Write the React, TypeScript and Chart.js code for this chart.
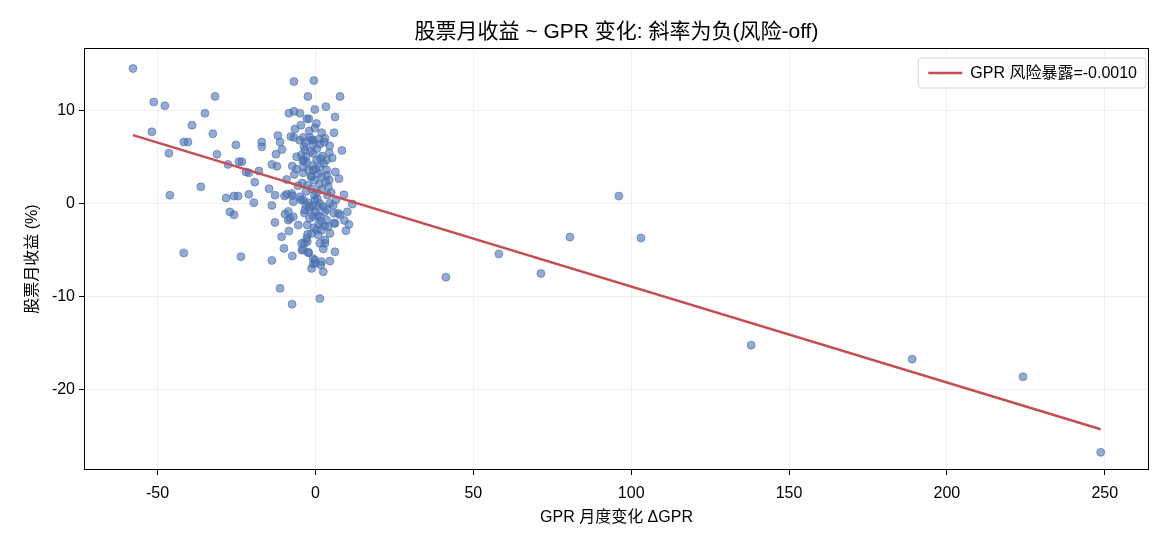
import React, { useEffect, useRef } from "react";
import { Chart, registerables } from "chart.js";

Chart.register(...registerables);

// Monthly change in the GPR index (x) and the stock market's monthly return in % (y)
const gprChange = [
  -57.8, -51.2, -47.7, -31.8, -35.0, -51.8, -39.1, -41.7, -40.4, -32.5,
  -46.4, -25.2, -17.0, -17.0, -11.9, -11.2, -10.6, -12.5, -31.2, -27.7,
  -24.2, -23.3, -22.0, -21.1, -17.9, -19.2, -13.8, -12.2, -36.3, -46.1,
  -28.3, -25.8, -24.5, -21.1, -19.5, -14.7, -12.8, -13.8, -27.1, -25.8,
  -41.7, -23.6, -13.8, -11.2, -7.4, 1.4, -6.8, -0.5, -2.4, 7.8,
  -8.4, -6.8, -4.9, -0.2, 3.3, 6.2, -2.7, -2.1, -4.6, -6.5,
  -0.2, 5.9, -7.8, -6.8, -1.7, -0.8, 3.0, 8.4,
  -3.85, -3.2, 1.43, -1.21, 4.38, 3.54, -5.97, -7.34, -6.71, -9.13,
  -3.33, -3.01, -3.85, -3.64, -0.69, 0.37, -0.69, -1.21, 1.43, 1.95,
  3.54, 4.38, 4.07, 7.44, 9.03, 11.67, 10.09, 7.23, 9.13, -9.77,
  -7.55, -7.02, -4.91, -3.85, -3.33, -1.74, -0.16, 0.9, 1.43, 3.01,
  4.59, 5.86, 3.54, -0.69, -9.66, -8.61, -7.02, -5.44, -8.4, -10.72,
  -12.83, -9.98, -7.34, -4.38, -3.85, -2.59, -2.27, -1.21, 0.37, 1.43,
  0.9, 3.01, 2.48, 4.07, 4.59, 6.18, 9.66, 10.61, 6.18, 4.59,
  1.95, 2.48, -0.16, -1.21, -0.69,
  5.96, 7.76, 0.05, 1.74, -0.7, -2.15, -4.28, -3.55, -2.79, -2.47,
  -8.08, -8.6, -9.1, -7.35, 3.0, 1.96,
  -4.5, -2.8, -1.5, 0.5, 2.2, -3.9, -2.2, 0.8, 2.6, -1.0,
  -4.2, -2.5, -0.3, 1.2, 3.2, -3.0, -1.3, 0.4, 2.0, 3.8,
  -4.6, -2.3, -0.9, 0.6, 2.4, 3.6, -3.5, -1.9, 0.0, 1.8,
  2.9, -2.6, -0.5, 1.0, -1.4, 0.1, 1.6, -3.6, -0.8, 1.0,
  -2.0, 0.3, 2.0, -5.0, 4.5, 5.3, 6.3, 5.0, 6.5, 5.6,
  -5.5, -6.0, -1.8, 1.3, 3.5, -4.0, 2.8, -0.4, 0.7, -3.1,
  41.3, 58.1, 71.4, 80.6, 96.1, 103.1, 138.0, 189.0, 224.1, 248.7,
];

const stockReturn = [
  14.5, 10.9, 10.5, 11.5, 9.7, 7.7, 8.4, 6.6, 6.6, 7.5,
  5.4, 6.3, 6.6, 6.1, 7.3, 6.6, 5.8, 5.3, 5.3, 4.2,
  4.5, 4.5, 3.4, 3.3, 3.5, 2.3, 4.2, 4.0, 1.8, 0.9,
  0.6, 0.8, 0.8, 1.0, 0.1, 1.6, 0.9, -0.2, -0.9, -1.2,
  -5.3, -5.7, -6.1, -9.1, -10.8, -10.2, 13.1, 13.2, 11.5, 11.5,
  9.7, 9.9, 9.7, 10.1, 10.4, 9.3, 9.1, 9.1, 8.4, 8.0,
  8.1, 7.6, 7.2, 7.1, 7.1, 6.8, 7.0, 5.7,
  7.1, 6.56, 6.39, 6.82, 5.46, 4.67, 5.03, 4.02, 3.13, 2.59,
  5.74, 5.03, 3.95, 4.67, 5.38, 4.67, 3.6, 2.88, 3.95, 2.88,
  3.06, 2.52, 1.81, 2.67, 0.95, -0.05, -0.88, -1.05, -1.81, 0.81,
  1.09, 0.2, 0.73, 0.38, -0.7, -0.34, 0.38, -0.34, -1.41, -0.88,
  0.02, -1.05, -1.77, -1.41, -1.13, -1.77, -1.41, -2.31, -2.95, -3.56,
  -2.02, -4.81, -5.63, -4.27, -4.99, -4.09, -5.27, -3.2, -2.84, -4.27,
  -3.38, -3.92, -4.88, -2.49, -3.2, -2.13, -2.91, -2.24, -5.17, -6.17,
  -6.24, -7.31, -6.06, -6.96, -6.49,
  -2.09, -1.23, -6.4, -6.6, -5.9, -5.24, -4.99, -4.27, -3.73, -3.3,
  -1.59, -0.84, 0.99, 0.84, -4.27, -2.84,
  5.2, 4.4, 5.6, 5.9, 5.1, 3.3, 3.6, 3.2, 4.3, 4.1,
  2.2, 2.0, 2.5, 2.1, 2.3, 1.3, 1.6, 1.2, 1.5, 0.9,
  0.4, 0.1, -0.2, 0.5, -0.3, -0.6, -1.0, -1.6, -0.9, -1.9,
  -2.4, -2.3, -2.6, -2.2, 2.9, 3.7, 4.8, 6.1, 6.3, 6.9,
  7.8, 8.6, 7.6, 6.8, 6.2, 4.9, 3.4, 1.2, 0.4, -0.2,
  1.9, 3.7, -0.7, 0.0, 3.6, 4.6, 6.6, 0.9, -1.3, -0.1,
  -7.9, -5.4, -7.5, -3.6, 0.8, -3.7, -15.2, -16.7, -18.6, -26.7,
];

// OLS fit: return (decimal) = alpha + beta * ΔGPR
const fitBeta = -0.00103;
const fitAlphaPct = 1.39;

const xTicks = [-50, 0, 50, 100, 150, 200, 250];
const yTicks = [-20, -10, 0, 10];

const chartTitle = "股票月收益 ~ GPR 变化: 斜率为负(风险-off)";
const xAxisTitle = "GPR 月度变化 ΔGPR";
const yAxisTitle = "股票月收益 (%)";
const legendLabel = `GPR 风险暴露=${fitBeta.toFixed(4)}`;

const FONT = "'Liberation Sans', Arial, 'Noto Sans CJK SC', sans-serif";
const POINT_BLUE = "rgba(76, 114, 176, 0.6)";
const LINE_RED = "#c44e52";

const framePlugin = {
  id: "frameTitleLegend",
  afterDraw(chart: any) {
    const { ctx, chartArea: a } = chart;
    ctx.save();
    // axes frame
    ctx.strokeStyle = "#000";
    ctx.lineWidth = 1;
    ctx.strokeRect(a.left + 0.5, a.top + 0.5, a.right - a.left - 1, a.bottom - a.top - 1);

    // title centred over the plot area
    ctx.fillStyle = "#000";
    ctx.font = `21px ${FONT}`;
    ctx.textAlign = "center";
    ctx.textBaseline = "middle";
    ctx.fillText(chartTitle, (a.left + a.right) / 2, 32);

    // legend box in the upper right corner
    ctx.font = `16px ${FONT}`;
    const textW = ctx.measureText(legendLabel).width;
    const boxW = 10 + 34 + 8 + textW + 9;
    const boxH = 30;
    const bx = a.right - 3 - boxW;
    const by = a.top + 10;
    ctx.beginPath();
    const r = 3;
    ctx.moveTo(bx + r, by);
    ctx.lineTo(bx + boxW - r, by);
    ctx.quadraticCurveTo(bx + boxW, by, bx + boxW, by + r);
    ctx.lineTo(bx + boxW, by + boxH - r);
    ctx.quadraticCurveTo(bx + boxW, by + boxH, bx + boxW - r, by + boxH);
    ctx.lineTo(bx + r, by + boxH);
    ctx.quadraticCurveTo(bx, by + boxH, bx, by + boxH - r);
    ctx.lineTo(bx, by + r);
    ctx.quadraticCurveTo(bx, by, bx + r, by);
    ctx.closePath();
    ctx.fillStyle = "rgba(255,255,255,0.8)";
    ctx.fill();
    ctx.strokeStyle = "#d6d6d6";
    ctx.stroke();

    ctx.strokeStyle = LINE_RED;
    ctx.lineWidth = 2.5;
    ctx.beginPath();
    ctx.moveTo(bx + 10, by + boxH / 2);
    ctx.lineTo(bx + 44, by + boxH / 2);
    ctx.stroke();

    ctx.fillStyle = "#000";
    ctx.textAlign = "left";
    ctx.fillText(legendLabel, bx + 52, by + boxH / 2 + 1);
    ctx.restore();
  },
};

export default function App() {
  const canvasRef = useRef<HTMLCanvasElement | null>(null);

  useEffect(() => {
    if (!canvasRef.current) return;
    Chart.defaults.font.family = FONT;
    Chart.defaults.color = "#000";

    const points = gprChange.map((x, i) => ({ x, y: stockReturn[i] }));
    const xMin = Math.min(...gprChange);
    const xMax = Math.max(...gprChange);
    const fitAt = (x: number) => fitAlphaPct + fitBeta * 100 * x;
    const fitLine = [
      { x: xMin, y: fitAt(xMin) },
      { x: xMax, y: fitAt(xMax) },
    ];

    const chart = new Chart(canvasRef.current, {
      type: "scatter",
      data: {
        datasets: [
          {
            type: "line",
            label: legendLabel,
            data: fitLine,
            borderColor: LINE_RED,
            borderWidth: 2.5,
            pointRadius: 0,
            fill: false,
            order: 0,
          },
          {
            label: "月度观测",
            data: points,
            backgroundColor: POINT_BLUE,
            borderColor: POINT_BLUE,
            borderWidth: 1,
            pointRadius: 4,
            order: 1,
          },
        ],
      },
      options: {
        responsive: false,
        animation: false,
        layout: { padding: { left: 0, right: 21, top: 48, bottom: 0 } },
        plugins: {
          legend: { display: false },
          tooltip: { enabled: false },
          title: { display: false },
        },
        scales: {
          x: {
            type: "linear",
            min: -73.3,
            max: 264,
            afterBuildTicks: (s: any) => {
              s.ticks = xTicks.map((v) => ({ value: v }));
            },
            afterFit: (s: any) => {
              s.height = 76;
            },
            border: { display: false },
            grid: {
              color: "rgba(0,0,0,0.06)",
              tickColor: "#000",
              tickLength: 5,
              drawTicks: true,
            },
            ticks: { font: { size: 16 }, padding: 9, color: "#000" },
            title: {
              display: true,
              text: xAxisTitle,
              font: { size: 16 },
              color: "#000",
              padding: { top: 0, bottom: 19 },
            },
          },
          y: {
            type: "linear",
            min: -28.6,
            max: 16.7,
            afterBuildTicks: (s: any) => {
              s.ticks = yTicks.map((v) => ({ value: v }));
            },
            afterFit: (s: any) => {
              s.width = 84;
            },
            border: { display: false },
            grid: {
              color: "rgba(0,0,0,0.06)",
              tickColor: "#000",
              tickLength: 5,
              drawTicks: true,
            },
            ticks: { font: { size: 16 }, padding: 4, color: "#000" },
            title: {
              display: true,
              text: yAxisTitle,
              font: { size: 16 },
              color: "#000",
              padding: { top: 23, bottom: 0 },
            },
          },
        },
      },
      plugins: [framePlugin],
    });

    return () => chart.destroy();
  }, []);

  return (
    <div style={{ position: "absolute", left: 0, top: 0, width: 1170, height: 546, background: "#fff" }}>
      <canvas ref={canvasRef} width={1170} height={546} style={{ display: "block" }} />
    </div>
  );
}
